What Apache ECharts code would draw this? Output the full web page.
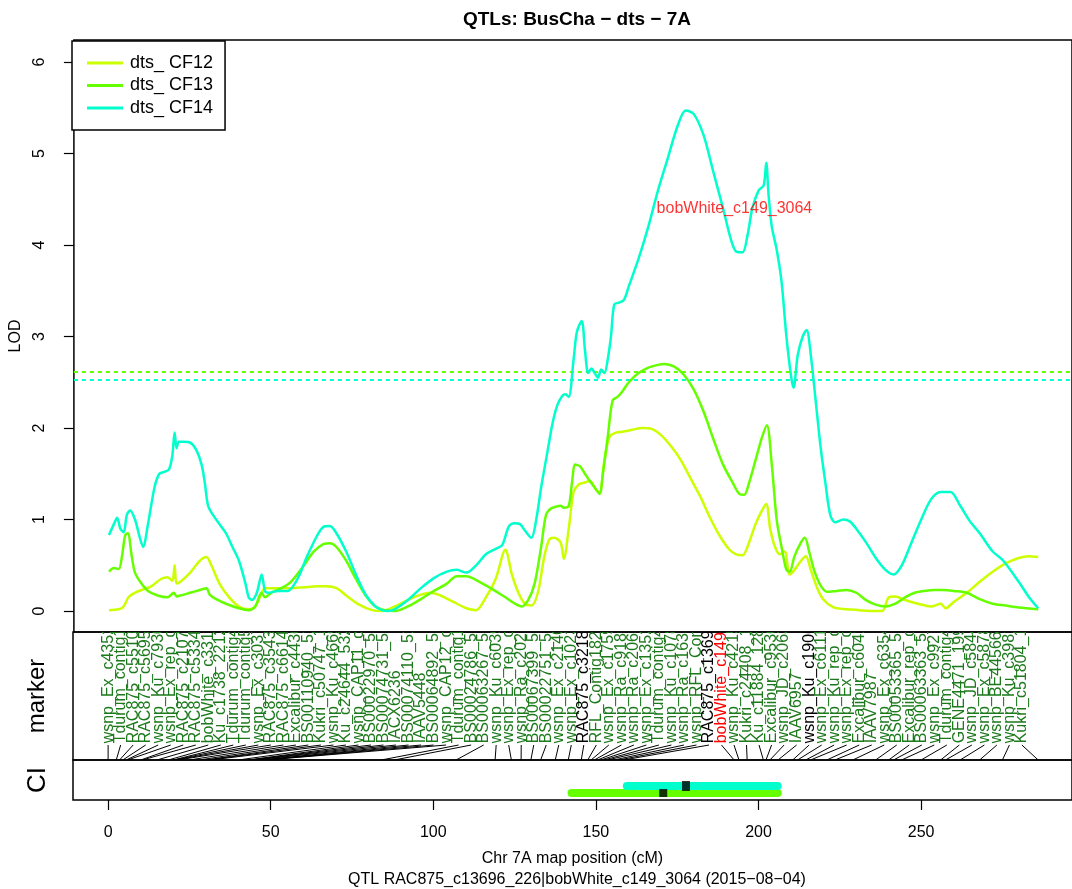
<!DOCTYPE html>
<html>
<head>
<meta charset="utf-8">
<script src="https://cdn.jsdelivr.net/npm/echarts@6/dist/echarts.min.js"></script>
<style>
  html, body { margin: 0; padding: 0; background: #fff; }
  #chart { width: 1072px; height: 889px; }
</style>
</head>
<body>
<div id="chart"></div>
<script>
// ---- LOD profiles along chromosome 7A: [position (cM), LOD] ----
const lodCF12 = [
  [0,0.01],[3,0.02],[4.5,0.05],[6,0.15],[8,0.2],[10,0.23],[13,0.27],[16,0.35],[18,0.37],[19.5,0.33],
  [20.2,0.5],[20.8,0.3],[22,0.32],[25,0.42],[28,0.55],[30,0.59],[31.5,0.5],[34,0.3],[37,0.15],[40,0.05],
  [43,0.02],[45,0.05],[47,0.2],[48,0.25],[52,0.25],[56,0.25],[60,0.26],[64,0.27],[67,0.27],[70,0.25],
  [73,0.17],[77,0.07],[81,0.01],[84,0.0],[88,0.05],[92,0.12],[96,0.18],[99,0.2],[102,0.17],[106,0.1],
  [110,0.03],[113,0.01],[116,0.15],[119,0.35],[122,0.67],[124,0.4],[126,0.2],[128,0.08],[130,0.06],[132,0.2],
  [134,0.6],[135.5,0.78],[137,0.8],[139,0.75],[140,0.57],[141.5,0.9],[143,1.3],[144.5,1.38],[146,1.4],[148,1.42],
  [150,1.32],[151,1.3],[152.5,1.65],[154,1.9],[156,1.95],[158,1.96],[161,1.98],[164,2.0],[167,1.99],[170,1.92],
  [173,1.8],[176,1.65],[179,1.45],[182,1.25],[185,1.02],[188,0.82],[191,0.67],[193,0.62],[195,0.61],[197,0.75],
  [199,0.95],[201,1.1],[202.3,1.17],[203.5,0.9],[205,0.7],[206.5,0.62],[208,0.65],[209.5,0.4],[211,0.45],[213,0.55],
  [214.5,0.6],[216,0.45],[218,0.25],[220,0.12],[223,0.04],[227,0.02],[231,0.01],[235,0.0],[238,0.0],[240,0.15],
  [242,0.16],[245,0.12],[249,0.08],[253,0.05],[256,0.08],[257.5,0.03],[260,0.1],[264,0.2],[268,0.32],[272,0.43],
  [276,0.52],[280,0.58],[283,0.6],[286,0.59]
];
const lodCF13 = [
  [0,0.43],[1.5,0.47],[3,0.46],[4,0.6],[5,0.83],[5.8,0.85],[7,0.6],[8,0.42],[10,0.3],[12,0.22],
  [15,0.17],[18,0.15],[20,0.2],[20.8,0.16],[22,0.17],[25,0.2],[28,0.23],[30,0.25],[31,0.18],[33,0.13],
  [36,0.08],[40,0.03],[43,0.01],[45,0.05],[47,0.2],[48,0.15],[50,0.2],[53,0.25],[56,0.32],[60,0.5],
  [63,0.65],[66,0.73],[68,0.74],[70,0.7],[73,0.55],[76,0.35],[79,0.17],[82,0.05],[85,0.01],[88,0.0],
  [92,0.05],[96,0.13],[100,0.22],[104,0.3],[107,0.38],[110,0.38],[114,0.32],[118,0.24],[122,0.15],[125,0.08],
  [127,0.05],[129,0.12],[131,0.3],[133,0.7],[134.5,1.05],[136,1.12],[137.5,1.14],[139,1.15],[140,1.13],[141.5,1.15],
  [142.5,1.4],[143.5,1.6],[145,1.58],[146.5,1.5],[148,1.42],[149.5,1.35],[151,1.28],[152,1.5],[153.5,1.9],[155,2.3],
  [156.5,2.34],[158,2.4],[160,2.5],[163,2.6],[166,2.66],[169,2.69],[171,2.7],[174,2.67],[177,2.58],[180,2.42],
  [183,2.18],[186,1.88],[189,1.6],[192,1.4],[194,1.28],[195.5,1.27],[197,1.4],[199,1.65],[201,1.9],[202.5,2.03],
  [204,1.6],[205.5,1.0],[207,0.7],[208.5,0.45],[209.5,0.43],[211,0.6],[213,0.75],[214.2,0.8],[215.5,0.65],[217,0.45],
  [219,0.28],[221,0.21],[224,0.22],[227,0.23],[230,0.2],[233,0.12],[236,0.07],[239,0.05],[242,0.08],[245,0.15],
  [248,0.2],[251,0.22],[254,0.23],[257,0.23],[260,0.22],[264,0.2],[268,0.13],[272,0.08],[276,0.06],[280,0.04],
  [286,0.02]
];
const lodCF14 = [
  [0,0.83],[1.5,0.95],[2.5,1.02],[3.5,0.9],[4.5,0.86],[5.5,1.05],[6.5,1.1],[8,1.0],[9.5,0.8],[10.5,0.7],
  [12,0.95],[14,1.35],[15.5,1.5],[17,1.52],[18.5,1.55],[19.5,1.7],[20.2,1.95],[20.8,1.78],[21.5,1.85],[23,1.85],
  [25,1.84],[27,1.75],[28.5,1.6],[29.5,1.4],[30.5,1.15],[32,1.05],[34,0.95],[36,0.85],[38,0.7],[40,0.55],
  [42,0.3],[43,0.15],[44,0.12],[45.5,0.2],[47,0.4],[48,0.22],[49,0.2],[52,0.22],[55,0.22],[58,0.35],
  [61,0.6],[64,0.82],[66,0.92],[68,0.93],[70,0.85],[73,0.65],[76,0.4],[79,0.18],[82,0.05],[84,0.01],
  [86,0.0],[88,0.02],[92,0.12],[96,0.25],[100,0.36],[104,0.43],[107,0.45],[110,0.42],[113,0.5],[116,0.62],
  [119,0.68],[121,0.72],[123,0.92],[124.5,0.96],[126.5,0.95],[128,0.88],[130,0.8],[131.5,1.0],[133,1.35],[135,1.75],
  [136.5,2.05],[138,2.25],[139.5,2.35],[140.5,2.37],[141.5,2.34],[143,2.75],[144,3.05],[145.5,3.17],[146.5,2.85],[147.5,2.6],
  [148.5,2.65],[149.5,2.6],[150.5,2.55],[151.5,2.64],[152.5,2.6],[153.5,2.75],[154.5,3.0],[155.5,3.35],[157,3.37],[158.5,3.4],
  [160,3.55],[163,3.85],[166,4.2],[169,4.6],[172,4.95],[175,5.3],[177.5,5.47],[180,5.43],[183,5.2],[186,4.8],
  [189,4.4],[191.5,4.05],[193,3.93],[195,3.92],[196.5,4.1],[198,4.4],[200,4.6],[201.5,4.65],[202.3,4.9],[203,4.55],
  [204,4.2],[205.5,3.95],[207,3.6],[208.5,3.0],[210,2.55],[210.7,2.44],[212,2.8],[213.5,3.0],[214.7,3.07],[216,2.8],
  [217.5,2.3],[219,1.8],[220.5,1.4],[222,1.05],[223.5,0.97],[226,1.0],[228,0.98],[230,0.9],[233,0.75],[236,0.58],
  [239,0.45],[241.5,0.4],[244,0.5],[247,0.75],[250,1.0],[253,1.22],[256,1.3],[259,1.3],[262,1.15],[265,0.98],
  [268,0.85],[272,0.65],[275,0.56],[280,0.32],[283,0.16],[286,0.03]
];

const traitNames = ['dts_ CF12', 'dts_ CF13', 'dts_ CF14'];
const traitColors = ['#ccff00', '#66ff00', '#00ffcc'];
const lodThresholds = [2.62, 2.62, 2.53];

// ---- genetic map: marker names and positions (cM) ----
const markerNames = [
  'wsnp_Ex_c4352_7810','Tdurum_contig1044','RAC875_c5510_1144','RAC875_c5695_206','wsnp_Ku_c7930_1358',
  'wsnp_Ex_rep_c6751','RAC875_c21077_81','RAC875_c53347_179','bobWhite_c3316_99','Ku_c1738_2212',
  'Tdurum_contig4325','Tdurum_contig5117','wsnp_Ex_c3037_5557','RAC875_c35435_87','RAC875_c66149_143',
  'Excalibur_c4436_48','BS00110940_51','Kukri_c50747_108','wsnp_Ku_c4669_8469','Ku_c24644_532',
  'wsnp_CAP11_c1132','BS00022970_51','BS00074731_51','IACX6236','BS00074110_51',
  'IAAV5448','BS00064892_51','wsnp_CAP12_c1222','Tdurum_contig1229','BS00024786_51',
  'BS00063267_51','wsnp_Ku_c6039_1077','wsnp_Ex_rep_c6992','wsnp_Ra_c2027_3928','BS00067399_51',
  'BS00022751_51','wsnp_Ex_c2140_4032','wsnp_Ex_c10230_1',"RAC875_c32187_217",'RFL_Contig1822',
  'wsnp_Ex_c1759_3339','wsnp_Ra_c9189_1541','wsnp_Ra_c2063_3990','wsnp_Ex_c1352_2590','Tdurum_contig4270',
  'wsnp_Ku_c1078_2239','wsnp_Ra_c1633_3163','wsnp_RFL_Contig2','RAC875_c13696_226','bobWhite_c149_3064',
  'wsnp_Ku_c4215_7648','Kukri_c24408_166','Ku_c11884_1283','Excalibur_c9536_24','wsnp_JD_c2063_2836',
  'IAAV6957','wsnp_Ku_c19067_28','wsnp_Ex_c6111_1069','wsnp_Ku_rep_c7138','wsnp_Ex_rep_c6688',
  'Excalibur_c60413_73','IAAV7987','wsnp_Ex_c6354_1100','BS00053365_51','Excalibur_rep_c10',
  'BS00063363_51','wsnp_Ex_c9927_1636','Tdurum_contig4215','GENE4471_199','wsnp_JD_c5844_7010',
  'wsnp_Ex_c5878_1032','wsnp_BE445667B_T','wsnp_Ku_c3981_7256','Kukri_c51804_147'
];
const markerPositions = [
  0, 2.5, 3.5, 4.5, 5.5, 6, 10, 10.5, 15, 18.5,
  20, 20.3, 20.8, 21.5, 25, 28, 30, 30.5, 31.5, 40,
  43, 43.5, 44, 45, 47, 47.5, 48, 48.5, 84, 88,
  107, 119, 124, 127, 130, 133, 137.5, 141.5, 145.5, 147.5,
  148.5, 149.5, 150.5, 151.5, 152.5, 153.5, 155.5, 157, 158.5, 192.5,
  194, 196.5, 201.5, 202.3, 203.5, 206, 210.5, 212, 214.5, 216,
  221, 223.5, 229, 236, 240, 241.5, 244, 250, 256, 257.5,
  262, 268, 275, 286
];
const flankMarkers = ['RAC875_c32187_217', 'RAC875_c13696_226', 'wsnp_Ku_c19067_28'];
const peakMarker = 'bobWhite_c149_3064';
const peakMarkerLod = 4.4;

// ---- confidence intervals (cM) for the significant traits ----
const ciTraits = ['dts_ CF13', 'dts_ CF14'];
const ciLow = [142.5, 159.5];
const ciHigh = [205.9, 205.9];
const ciPeak = [170.7, 177.7];

const subtitleText = 'QTL RAC875_c13696_226|bobWhite_c149_3064 (2015\u221208\u221204)';
const titleText = 'QTLs: BusCha \u2212 dts \u2212 7A';
const lodTicks = [0, 1, 2, 3, 4, 5, 6];
const mapTicks = [0, 50, 100, 150, 200, 250];

// ---- layout ----
const FONT = '"Liberation Sans", Arial, Helvetica, sans-serif';
const X_MIN = -10.8, X_MAX = 296.4;
const PLOT_LEFT = 73;
const LABEL_FIRST = 0, LABEL_LAST = 281;   // even spread of marker labels
const LINK_TOP = 0.117, TEXT_BASE = 0.13;  // fractions of the marker panel height

const labelSlots = markerNames.map((_, i) =>
  LABEL_FIRST + i * (LABEL_LAST - LABEL_FIRST) / (markerNames.length - 1));

function markerColor(name) {
  if (name === peakMarker) return '#ff0000';
  if (flankMarkers.indexOf(name) >= 0) return '#000000';
  return '#1c7a1c';
}

const chart = echarts.init(document.getElementById('chart'), null, { renderer: 'canvas' });

const grids = [
  { left: PLOT_LEFT, right: 0, top: 40, height: 592 },
  { left: PLOT_LEFT, right: 0, top: 632, height: 128 },
  { left: PLOT_LEFT, right: 0, top: 760, height: 40 }
].map(g => Object.assign({ show: true, borderColor: '#000', borderWidth: 1.5, backgroundColor: 'transparent' }, g));

const xAxes = [0, 1, 2].map(i => ({
  type: 'value', gridIndex: i, min: X_MIN, max: X_MAX,
  show: i === 2, position: 'bottom',
  splitLine: { show: false },
  axisLine: { show: false, onZero: false },
  axisTick: { show: i === 2, length: 10, lineStyle: { color: '#000', width: 1.2 }, customValues: mapTicks },
  axisLabel: { show: i === 2, customValues: mapTicks, color: '#000', fontSize: 16, fontFamily: FONT, margin: 25 },
  name: i === 2 ? 'Chr 7A map position (cM)' : '',
  nameLocation: 'middle', nameGap: 51,
  nameTextStyle: { color: '#000', fontSize: 16, fontFamily: FONT }
}));

const yAxes = [
  {
    type: 'value', gridIndex: 0, min: -0.229, max: 6.24, position: 'left',
    splitLine: { show: false }, axisLine: { show: false, onZero: false },
    axisTick: { show: true, length: 10, customValues: lodTicks, lineStyle: { color: '#000', width: 1.2 } },
    axisLabel: { customValues: lodTicks, rotate: 90, color: '#000', fontSize: 16, fontFamily: FONT,
                 margin: 26, align: 'center', verticalAlign: 'bottom' },
    name: 'LOD', nameLocation: 'middle', nameGap: 46, nameRotate: 90,
    nameTextStyle: { color: '#000', fontSize: 16, fontFamily: FONT }
  },
  {
    type: 'value', gridIndex: 1, min: 0, max: 1, position: 'left',
    splitLine: { show: false }, axisLine: { show: false, onZero: false }, axisTick: { show: false }, axisLabel: { show: false },
    name: 'marker', nameLocation: 'middle', nameGap: 24, nameRotate: 90,
    nameTextStyle: { color: '#000', fontSize: 24, fontFamily: FONT }
  },
  {
    type: 'value', gridIndex: 2, min: 0, max: 1, position: 'left',
    splitLine: { show: false }, axisLine: { show: false, onZero: false }, axisTick: { show: false }, axisLabel: { show: false },
    name: 'CI', nameLocation: 'middle', nameGap: 22, nameRotate: 90,
    nameTextStyle: { color: '#000', fontSize: 26, fontFamily: FONT }
  }
];

const lodSeries = [lodCF12, lodCF13, lodCF14].map((data, i) => ({
  name: traitNames[i], type: 'line', xAxisIndex: 0, yAxisIndex: 0,
  data: data, showSymbol: false, smooth: 0.3, z: 3 + i,
  lineStyle: { color: traitColors[i], width: 2.5 },
  itemStyle: { color: traitColors[i] },
  markLine: {
    silent: true, symbol: ['none', 'none'], label: { show: false },
    lineStyle: { color: traitColors[i], type: [4, 4], width: 2 },
    data: [{ yAxis: lodThresholds[i] }]
  }
}));

const peakLabelSeries = {
  type: 'scatter', xAxisIndex: 0, yAxisIndex: 0, silent: true, z: 10,
  symbolSize: 0,
  data: [{ name: peakMarker, value: [markerPositions[markerNames.indexOf(peakMarker)], peakMarkerLod] }],
  label: { show: true, position: 'inside', formatter: '{b}', color: '#ff0000', fontSize: 16, fontFamily: FONT }
};

const markerSeries = {
  type: 'custom', xAxisIndex: 1, yAxisIndex: 1, clip: true, silent: true,
  data: markerNames.map((n, i) => [labelSlots[i], markerPositions[i], i]),
  encode: { x: [0, 1] },
  renderItem: function (params, api) {
    const idx = api.value(2);
    const name = markerNames[idx];
    const top = api.coord([api.value(0), LINK_TOP]);
    const bottom = api.coord([api.value(1), 0]);
    const base = api.coord([api.value(0), TEXT_BASE]);
    return {
      type: 'group',
      children: [
        { type: 'line', shape: { x1: bottom[0], y1: bottom[1], x2: top[0], y2: top[1] },
          style: { stroke: '#000', lineWidth: 1 } },
        { type: 'text', x: base[0], y: base[1], rotation: Math.PI / 2,
          style: { text: name, fill: markerColor(name), font: '16px ' + FONT,
                   align: 'left', verticalAlign: 'middle' } }
      ]
    };
  }
};

const ciSeries = [];
ciTraits.forEach((t, k) => {
  const color = traitColors[traitNames.indexOf(t)];
  const row = k === 0 ? 0.175 : 0.35;
  ciSeries.push({
    name: t + ' CI', type: 'line', xAxisIndex: 2, yAxisIndex: 2, silent: true,
    data: [[ciLow[k], row], [ciHigh[k], row]], showSymbol: false, z: 3 + k,
    lineStyle: { color: color, width: 8, cap: 'round' }
  });
  ciSeries.push({
    name: t + ' peak', type: 'scatter', xAxisIndex: 2, yAxisIndex: 2, silent: true, z: 6,
    data: [[ciPeak[k], row]], symbol: 'rect', symbolSize: k === 0 ? [8, 8] : [8, 10],
    itemStyle: { color: '#000' }
  });
});

chart.setOption({
  animation: false,
  backgroundColor: '#fff',
  textStyle: { fontFamily: FONT },
  title: [
    { text: titleText, left: 572, textAlign: 'center', top: 5,
      textStyle: { fontSize: 19, fontWeight: 'bold', color: '#000', fontFamily: FONT } },
    { text: subtitleText, left: 572, textAlign: 'center', top: 867,
      textStyle: { fontSize: 16, fontWeight: 'normal', color: '#000', fontFamily: FONT } }
  ],
  legend: {
    data: traitNames, orient: 'vertical', left: 72, top: 41,
    padding: [13, 12, 13, 15], itemGap: 4.5, itemWidth: 36, itemHeight: 3, icon: 'rect',
    backgroundColor: '#fff', borderColor: '#000', borderWidth: 1.5, borderRadius: 0,
    selectedMode: false,
    textStyle: { fontSize: 18, color: '#000', fontFamily: FONT, lineHeight: 18, padding: [0, 0, 0, 2] }
  },
  grid: grids,
  xAxis: xAxes,
  yAxis: yAxes,
  series: [].concat(lodSeries, [peakLabelSeries, markerSeries], ciSeries)
});
</script>
</body>
</html>
